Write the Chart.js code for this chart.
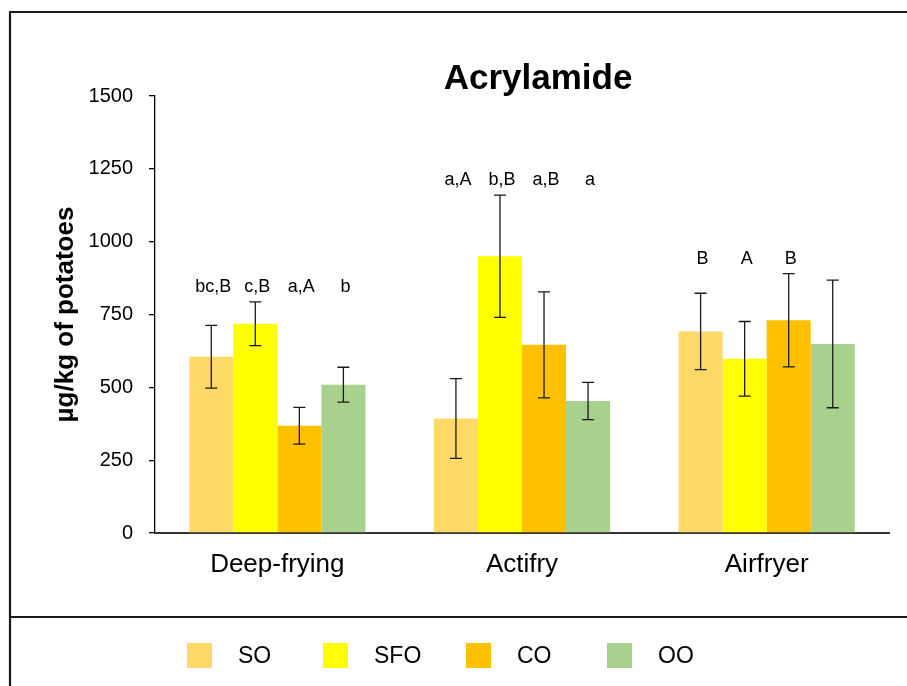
<!DOCTYPE html>
<html>
<head>
<meta charset="utf-8">
<script src="https://cdn.jsdelivr.net/npm/chart.js@4.4.1/dist/chart.umd.min.js"></script>
<style>
  html, body { margin: 0; padding: 0; background: #ffffff; }
  #wrap { width: 907px; height: 686px; position: relative; }
</style>
</head>
<body>
<div id="wrap"><canvas id="chart" width="907" height="686"></canvas></div>
<script>
// Cooking methods on the x axis
const methods = ['Deep-frying', 'Actifry', 'Airfryer'];
// Oils (one bar series each)
const oils = ['SO', 'SFO', 'CO', 'OO'];

// Mean acrylamide content (µg/kg of potatoes)
const soMean  = [605, 393, 692];
const sfoMean = [718, 950, 598];
const coMean  = [368, 646, 730];
const ooMean  = [509, 453, 649];

// Standard deviations
const soSd  = [108, 137, 131];
const sfoSd = [75, 210, 128];
const coSd  = [63, 182, 160];
const ooSd  = [60, 64, 219];

// Significance letters above each bar
const soLetters  = ['bc,B', 'a,A', 'B'];
const sfoLetters = ['c,B', 'b,B', 'A'];
const coLetters  = ['a,A', 'a,B', 'B'];
const ooLetters  = ['b', 'a', ''];

// Value axis tick labels
const yTicks = [0, 250, 500, 750, 1000, 1250, 1500];

const oilColors = ['#FFD966', '#FFFF00', '#FFC000', '#A9D18E'];
const means = [soMean, sfoMean, coMean, ooMean];
const sds = [soSd, sfoSd, coSd, ooSd];
const letters = [soLetters, sfoLetters, coLetters, ooLetters];

const FONT = '"Liberation Sans", Arial, Helvetica, sans-serif';

// White page with the outer frame and the divider above the legend
const framePlugin = {
  id: 'frame',
  beforeDraw(chart) {
    const ctx = chart.ctx;
    ctx.save();
    ctx.fillStyle = '#ffffff';
    ctx.fillRect(0, 0, chart.width, chart.height);
    ctx.strokeStyle = '#1a1a1a';
    ctx.lineWidth = 2.2;
    ctx.beginPath();
    ctx.moveTo(10, chart.height + 5);
    ctx.lineTo(10, 12);
    ctx.lineTo(chart.width + 5, 12);
    ctx.moveTo(10, 617);
    ctx.lineTo(chart.width + 5, 617);
    ctx.stroke();
    ctx.restore();
  }
};

// Chart heading
const headingPlugin = {
  id: 'heading',
  afterDraw(chart) {
    const ctx = chart.ctx;
    ctx.save();
    ctx.font = 'bold 35px ' + FONT;
    ctx.fillStyle = '#000000';
    ctx.textAlign = 'center';
    ctx.textBaseline = 'alphabetic';
    ctx.fillText('Acrylamide', 538, 89);
    ctx.restore();
  }
};

// Error bars (mean ± SD) and the letters over each group
const errorPlugin = {
  id: 'errorBars',
  afterDatasetsDraw(chart) {
    const ctx = chart.ctx;
    const y = chart.scales.y;
    ctx.save();
    ctx.strokeStyle = '#1a1a1a';
    ctx.lineWidth = 1.3;
    const groupTop = methods.map(() => Infinity);
    chart.data.datasets.forEach((ds, i) => {
      const meta = chart.getDatasetMeta(i);
      meta.data.forEach((bar, j) => {
        const v = ds.data[j];
        const e = sds[i][j];
        const top = y.getPixelForValue(v + e);
        const bot = y.getPixelForValue(v - e);
        groupTop[j] = Math.min(groupTop[j], top);
        ctx.beginPath();
        ctx.moveTo(bar.x, top);
        ctx.lineTo(bar.x, bot);
        ctx.moveTo(bar.x - 6, top);
        ctx.lineTo(bar.x + 6, top);
        ctx.moveTo(bar.x - 6, bot);
        ctx.lineTo(bar.x + 6, bot);
        ctx.stroke();
      });
    });
    ctx.font = '18px ' + FONT;
    ctx.fillStyle = '#000000';
    ctx.textAlign = 'center';
    ctx.textBaseline = 'alphabetic';
    chart.data.datasets.forEach((ds, i) => {
      const meta = chart.getDatasetMeta(i);
      meta.data.forEach((bar, j) => {
        const t = letters[i][j];
        if (t) ctx.fillText(t, bar.x + 2, groupTop[j] - 10);
      });
    });
    ctx.restore();
  }
};

// Legend row under the divider
const legendSlots = [187, 323, 466, 607];
const legendPlugin = {
  id: 'legendRow',
  afterDraw(chart) {
    const ctx = chart.ctx;
    ctx.save();
    ctx.font = '23px ' + FONT;
    ctx.textAlign = 'left';
    ctx.textBaseline = 'alphabetic';
    chart.data.datasets.forEach((ds, i) => {
      const x = legendSlots[i];
      ctx.fillStyle = ds.backgroundColor;
      ctx.fillRect(x, 643, 25, 25);
      ctx.fillStyle = '#000000';
      ctx.fillText(ds.label, x + 51, 663);
    });
    ctx.restore();
  }
};

new Chart(document.getElementById('chart'), {
  type: 'bar',
  data: {
    labels: methods,
    datasets: oils.map((name, i) => ({
      label: name,
      data: means[i],
      backgroundColor: oilColors[i],
      borderWidth: 0,
      categoryPercentage: 0.72,
      barPercentage: 1.0
    }))
  },
  options: {
    responsive: false,
    animation: false,
    devicePixelRatio: 1,
    layout: { padding: { top: 96, right: 18, bottom: 83, left: 0 } },
    plugins: {
      legend: { display: false },
      title: { display: false },
      tooltip: { enabled: false }
    },
    scales: {
      x: {
        grid: { display: false, drawTicks: false },
        border: { display: true, color: '#333333', width: 2 },
        ticks: { font: { family: FONT, size: 26 }, color: '#000000', padding: 16 },
        afterFit(s) { s.height = 70; }
      },
      y: {
        min: 0,
        max: 1500,
        afterBuildTicks(s) { s.ticks = yTicks.map(v => ({ value: v })); },
        ticks: {
          font: { family: FONT, size: 20 },
          color: '#000000',
          padding: 16,
          callback: v => String(v)
        },
        grid: { drawOnChartArea: false, drawTicks: true, tickLength: 6, color: '#000000', lineWidth: 1.3 },
        border: { display: true, color: '#000000', width: 1.3 },
        title: {
          display: true,
          text: 'µg/kg of potatoes',
          font: { family: FONT, size: 26, weight: 'bold' },
          color: '#000000',
          padding: { top: 50, bottom: 0 }
        },
        afterFit(s) { s.width = 155; }
      }
    }
  },
  plugins: [framePlugin, errorPlugin, headingPlugin, legendPlugin]
});
</script>
</body>
</html>
